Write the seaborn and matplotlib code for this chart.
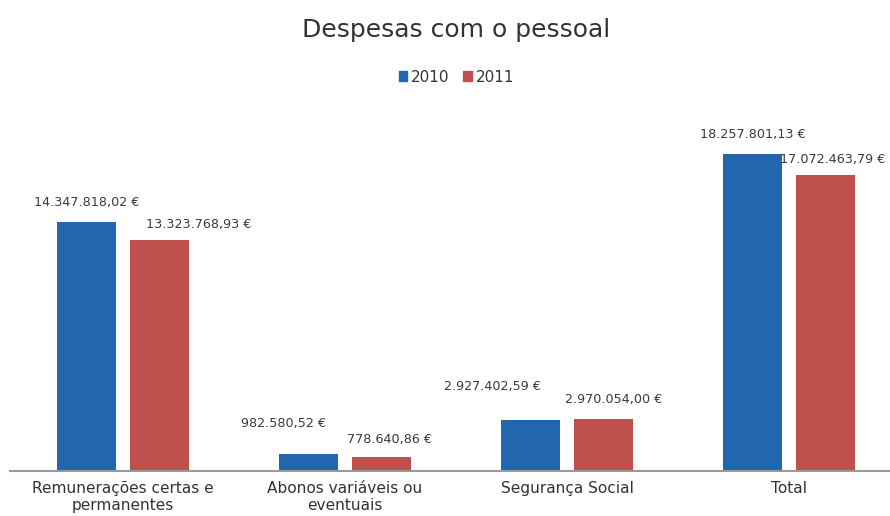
import matplotlib
matplotlib.use("Agg")
import matplotlib.pyplot as plt
import seaborn as sns
import pandas as pd

# Personnel expenses by category, in euros
categories = ["Remunerações certas e\npermanentes", "Abonos variáveis ou\neventuais",
              "Segurança Social", "Total"]
years = ["2010", "2011"]
values_2010 = [14347818.02, 982580.52, 2927402.59, 18257801.13]
values_2011 = [13323768.93, 778640.86, 2970054.00, 17072463.79]
colors = ["#2166ae", "#c0504d"]

# label offsets in points (dx, dy) from each bar's top-centre
offsets_2010 = [(0, 14), (-18, 22), (-27, 24), (0, 14)]
offsets_2011 = [(28, 11), (6, 13), (7, 14), (5, 11)]


def fmt_eur(v):
    s = f"{v:,.2f}"
    s = s.replace(",", "X").replace(".", ",").replace("X", ".")
    return s + " €"


df = pd.DataFrame({
    "categoria": categories * 2,
    "ano": [years[0]] * len(categories) + [years[1]] * len(categories),
    "valor": values_2010 + values_2011,
})

sns.set_theme(style="white")
plt.rcParams["font.family"] = ["DejaVu Sans"]

fig = plt.figure(figsize=(8.9, 5.16), dpi=100)
ax = fig.add_axes([10 / 890, 1 - 471 / 516, 1 - 10 / 890, 371 / 516])

sns.barplot(data=df, x="categoria", y="valor", hue="ano", order=categories,
            hue_order=years, palette=colors, width=0.66, gap=0.19,
            saturation=1, linewidth=0, ax=ax, legend=False)

ax.set_xlim(-0.509, 3.455)
ax.set_ylim(0, 21.37e6)

# value labels above the bars
for cont, offs in zip(ax.containers, [offsets_2010, offsets_2011]):
    for bar, (dx, dy) in zip(cont.patches, offs):
        h = bar.get_height()
        ax.annotate(fmt_eur(h), (bar.get_x() + bar.get_width() / 2, h),
                    xytext=(dx, dy), textcoords="offset points",
                    ha="center", va="center", fontsize=9.2, color="#3a3a3a",
                    annotation_clip=False)

for s in ["top", "right", "left"]:
    ax.spines[s].set_visible(False)
ax.spines["bottom"].set_color("#9a9a9a")
ax.spines["bottom"].set_linewidth(1.5)
ax.set_yticks([])
ax.set_xlabel("")
ax.set_ylabel("")
ax.tick_params(axis="x", length=0, pad=7, labelsize=11.1, labelcolor="#333333")

# title and legend
fig.text(0.512, 1 - 30 / 516, "Despesas com o pessoal", ha="center", va="center",
         fontsize=18, color="#333333")
handles = [plt.Rectangle((0, 0), 1, 1, color=c) for c in colors]
fig.legend(handles, years, loc="center", bbox_to_anchor=(0.513, 1 - 77 / 516),
           ncol=2, frameon=False, fontsize=11, handlelength=0.55,
           handleheight=0.55, handletextpad=0.25, columnspacing=0.9,
           labelcolor="#333333")

fig.savefig("out.png", dpi=100, facecolor="white")
